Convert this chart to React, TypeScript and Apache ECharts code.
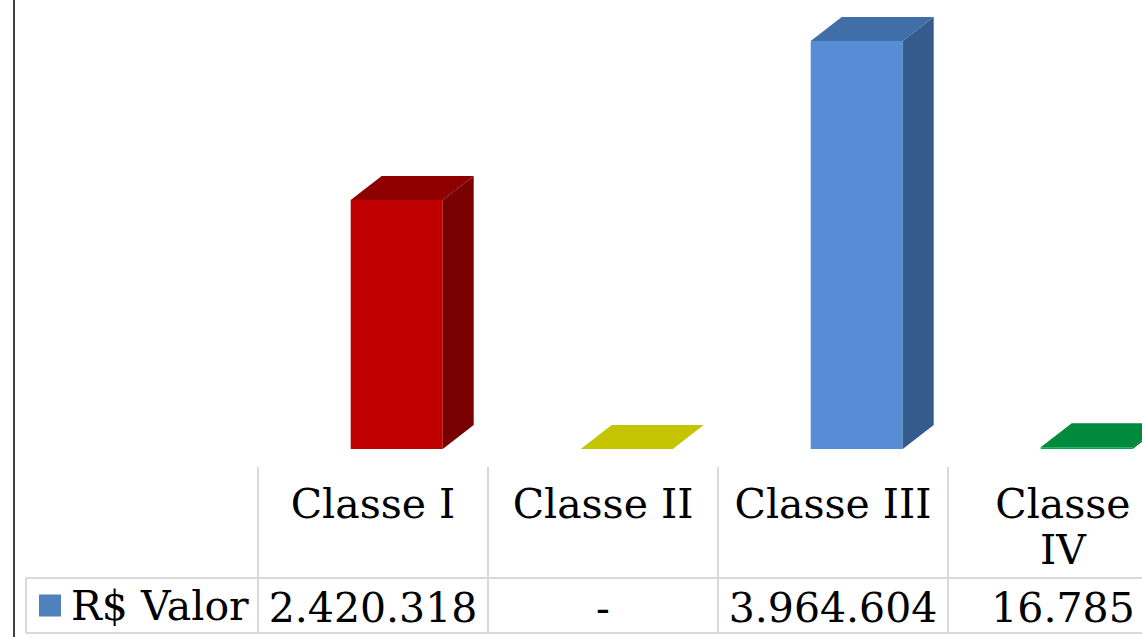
import React, { useEffect, useRef } from "react";
import * as echarts from "echarts";

const categories = ["Classe I", "Classe II", "Classe III", "Classe IV"];
const headerLabels = ["Classe I", "Classe II", "Classe III", "Classe\nIV"];
const values = [2420318, 0, 3964604, 16785];
const seriesName = "R$ Valor";
const frontColors = ["#C00000", "#C8C800", "#568DD5", "#00A651"];
const topColors = ["#8E0000", "#C4C400", "#406FA7", "#008A3E"];
const sideColors = ["#780000", "#A0A000", "#345B8B", "#006B30"];
const legendColor = "#4F81BD";
const yMax = 4000000;

const FONT = "'DejaVu Serif', serif";
const FONT_SIZE = 41;
const FRONT_LEFT = -22.3;
const FRONT_RIGHT = 69.7;
const DX = 31;
const DY = 24;
const GRID_COLOR = "#D9D9D9";

function fmt(v: number): string {
  if (!v) return "-";
  return String(v).replace(/\B(?=(\d{3})+(?!\d))/g, ".");
}

export default function App() {
  const ref = useRef<HTMLDivElement>(null);
  useEffect(() => {
    if (!ref.current) return;
    const chart = echarts.init(ref.current, null, { renderer: "svg" });
    chart.setOption({
      animation: false,
      backgroundColor: "#FFFFFF",
      grid: {
        left: 258,
        top: 37.4,
        width: 920,
        height: 411.6,
        outerBoundsMode: "none",
        containLabel: false,
      },
      legend: {
        show: true,
        left: 39,
        top: 585,
        padding: 0,
        itemWidth: 22,
        itemHeight: 22,
        icon: "rect",
        selectedMode: false,
        textStyle: { fontSize: FONT_SIZE, fontFamily: FONT, color: "#000", padding: [0, 0, 0, 5] },
        data: [seriesName],
      },
      xAxis: [
        {
          type: "category",
          data: categories,
          position: "bottom",
          axisLine: { show: false },
          axisTick: { show: false },
          axisLabel: {
            interval: 0,
            margin: 32,
            fontSize: FONT_SIZE,
            lineHeight: 46,
            fontFamily: FONT,
            color: "#000",
            hideOverlap: false,
            formatter: (_v: string, idx: number) => headerLabels[idx],
          },
          splitLine: { show: false },
        },
        {
          type: "category",
          data: categories,
          position: "bottom",
          offset: 18,
          axisLine: { show: false },
          axisTick: {
            show: true,
            interval: 0,
            length: 166,
            lineStyle: { color: GRID_COLOR, width: 2 },
          },
          axisLabel: {
            interval: 0,
            margin: 120,
            fontSize: FONT_SIZE,
            fontFamily: FONT,
            color: "#000",
            hideOverlap: false,
            formatter: (_v: string, idx: number) => fmt(values[idx]),
          },
          splitLine: { show: false },
        },
      ],
      yAxis: {
        type: "value",
        min: 0,
        max: yMax,
        show: false,
        splitLine: { show: false },
      },
      series: [
        {
          name: seriesName,
          type: "custom",
          xAxisIndex: 0,
          yAxisIndex: 0,
          itemStyle: { color: legendColor },
          data: values.map((v, i) => [i, v]),
          encode: { x: 0, y: 1 },
          renderItem: (params: any, api: any) => {
            const idx = params.dataIndex;
            const top = api.coord([api.value(0), api.value(1)]);
            const base = api.coord([api.value(0), 0]);
            const x0 = base[0] + FRONT_LEFT;
            const x1 = base[0] + FRONT_RIGHT;
            const yT = top[1];
            const yB = base[1];
            return {
              type: "group",
              children: [
                {
                  type: "rect",
                  shape: { x: x0, y: yT, width: x1 - x0, height: Math.max(yB - yT, 0) },
                  style: { fill: frontColors[idx] },
                },
                {
                  type: "polygon",
                  shape: {
                    points: [
                      [x1, yB],
                      [x1 + DX, yB - DY],
                      [x1 + DX, yT - DY],
                      [x1, yT],
                    ],
                  },
                  style: { fill: sideColors[idx] },
                },
                {
                  type: "polygon",
                  shape: {
                    points: [
                      [x0, yT],
                      [x0 + DX, yT - DY],
                      [x1 + DX, yT - DY],
                      [x1, yT],
                    ],
                  },
                  style: { fill: topColors[idx] },
                },
              ],
            };
          },
        },
      ],
      graphic: [
        {
          type: "line",
          shape: { x1: 14, y1: 0, x2: 14, y2: 637 },
          style: { stroke: "#404040", lineWidth: 2 },
          silent: true,
        },
        {
          type: "line",
          shape: { x1: 26, y1: 578, x2: 1142, y2: 578 },
          style: { stroke: GRID_COLOR, lineWidth: 2 },
          silent: true,
        },
        {
          type: "line",
          shape: { x1: 26, y1: 633, x2: 1142, y2: 633 },
          style: { stroke: GRID_COLOR, lineWidth: 2 },
          silent: true,
        },
        {
          type: "line",
          shape: { x1: 26, y1: 578, x2: 26, y2: 633 },
          style: { stroke: GRID_COLOR, lineWidth: 2 },
          silent: true,
        },
      ],
    });
    return () => chart.dispose();
  }, []);
  return (
    <div
      ref={ref}
      style={{ position: "absolute", left: 0, top: 0, width: 1142, height: 637 }}
    />
  );
}
